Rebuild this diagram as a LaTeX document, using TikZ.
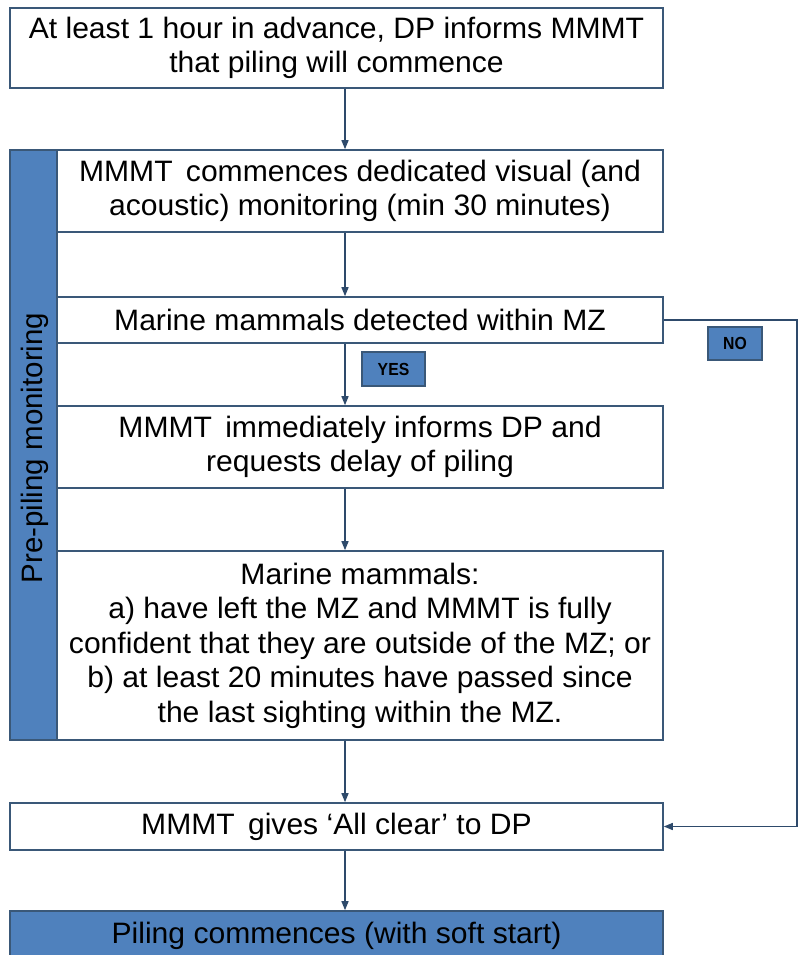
\documentclass[tikz,border=0pt]{standalone}
\usepackage{fontspec}
\setmainfont{Liberation Sans}
\newfontfamily\boxfont[FakeStretch=1.02]{Liberation Sans}
\newfontfamily\tagfont[FakeStretch=0.9]{Liberation Sans}
\usetikzlibrary{arrows.meta}
\definecolor{boxblue}{HTML}{4F81BD}
\definecolor{edge}{HTML}{3A5878}
\definecolor{arrowc}{HTML}{2E4A6B}
\tikzset{
  flowbox/.style={draw=edge, line width=1.6pt, fill=white, inner sep=0pt, align=center,
    font=\boxfont\fontsize{29.5}{34.5}\selectfont},
  tagbox/.style={draw=edge, line width=1.2pt, fill=boxblue, inner sep=0pt,
    font=\bfseries\tagfont\fontsize{17.5}{20}\selectfont},
  arr/.style={draw=arrowc, line width=1.4pt, -{Triangle[length=9pt,width=7pt]}},
  conn/.style={draw=arrowc, line width=1.4pt}
}
\begin{document}
\begin{tikzpicture}[x=1pt,y=-1pt]
\useasboundingbox (0,0) rectangle (798,955);
\node[draw=edge, line width=1.6pt, fill=boxblue, minimum width=47pt, minimum height=590pt, inner sep=0pt] (bar) at (33.5,445) {};
\node[rotate=90, font=\fontsize{29.5}{34}\selectfont] (barlabel) at (35,448) {Pre-piling monitoring};
\node[flowbox, minimum width=653pt, minimum height=80pt] (top) at (336.5,48) {At least 1 hour in advance, DP informs MMMT\\that piling will commence};
\node[flowbox, minimum width=606pt, minimum height=82pt] (mon) at (360,191) {MMMT\ \,commences dedicated visual (and\\acoustic) monitoring (min 30 minutes)};
\node[flowbox, minimum width=606pt, minimum height=46pt] (det) at (360,320) {Marine mammals detected within MZ};
\node[flowbox, minimum width=606pt, minimum height=82pt] (inf) at (360,447) {MMMT\ \,immediately informs DP and\\requests delay of piling};
\node[flowbox, minimum width=606pt, minimum height=189pt] (mm) at (360,645.5) {Marine mammals:\\a) have left the MZ and MMMT is fully\\confident that they are outside of the MZ; or\\b) at least 20 minutes have passed since\\the last sighting within the MZ.};
\node[flowbox, minimum width=653pt, minimum height=47pt] (clear) at (336.5,826.5) {MMMT\ \,gives ‘All clear’ to DP};
\node[flowbox, fill=boxblue, minimum width=653pt, minimum height=50pt] (pile) at (336.5,936) {Piling commences (with soft start)};
\node[tagbox, minimum width=63pt, minimum height=34pt] (yes) at (393.5,369) {YES};
\node[tagbox, minimum width=54pt, minimum height=33pt] (no) at (735,343.5) {NO};
\coordinate (ax) at (345,0);
\coordinate (rt) at (797,320);
\draw[arr] (top.south -| ax) -- (mon.north -| ax);
\draw[arr] (mon.south -| ax) -- (det.north -| ax);
\draw[arr] (det.south -| ax) -- (inf.north -| ax);
\draw[arr] (inf.south -| ax) -- (mm.north -| ax);
\draw[arr] (mm.south -| ax) -- (clear.north -| ax);
\draw[arr] (clear.south -| ax) -- (pile.north -| ax);
\draw[arr] (det.east) -- (rt) |- (clear.east);
\end{tikzpicture}
\end{document}
